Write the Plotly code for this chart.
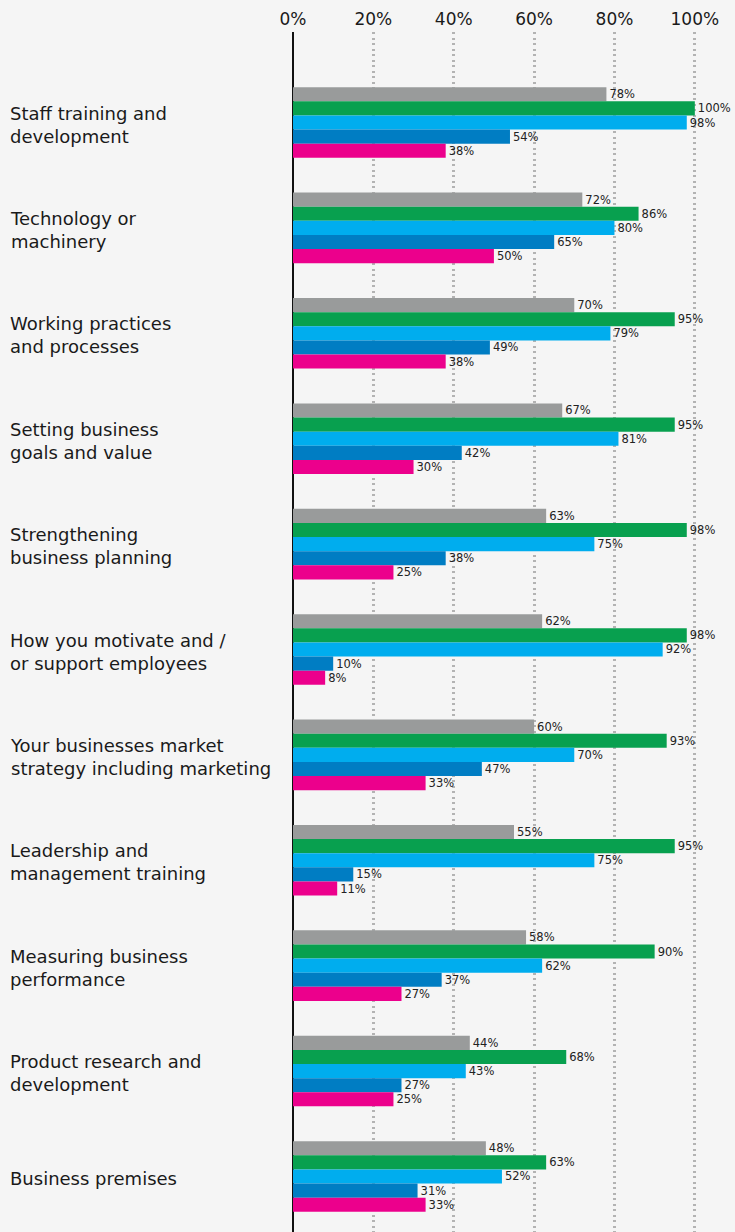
import plotly.graph_objects as go

# Survey areas, top to bottom
categories = [
    "Staff training and<br>development",
    "Technology or<br>machinery",
    "Working practices<br>and processes",
    "Setting business<br>goals and value",
    "Strengthening<br>business planning",
    "How you motivate and /<br>or support employees",
    "Your businesses market<br>strategy including marketing",
    "Leadership and<br>management training",
    "Measuring business<br>performance",
    "Product research and<br>development",
    "Business premises",
]

# Percentage values per series (one value per category)
grey_values = [78, 72, 70, 67, 63, 62, 60, 55, 58, 44, 48]
green_values = [100, 86, 95, 95, 98, 98, 93, 95, 90, 68, 63]
sky_values = [98, 80, 79, 81, 75, 92, 70, 75, 62, 43, 52]
blue_values = [54, 65, 49, 42, 38, 10, 47, 15, 37, 27, 31]
pink_values = [38, 50, 38, 30, 25, 8, 33, 11, 27, 25, 33]

tick_values = [0, 20, 40, 60, 80, 100]
tick_labels = ["0%", "20%", "40%", "60%", "80%", "100%"]

series = [
    ("Grey", grey_values, "#999b9b"),
    ("Green", green_values, "#08a04f"),
    ("Sky", sky_values, "#00adee"),
    ("Blue", blue_values, "#007dc3"),
    ("Pink", pink_values, "#ec008c"),
]

FONT = "'DejaVu Sans', sans-serif"
positions = list(range(len(categories)))

fig = go.Figure()
for name, vals, color in series:
    fig.add_trace(go.Bar(
        name=name,
        y=positions,
        x=vals,
        orientation="h",
        marker=dict(color=color, line=dict(width=0)),
        text=[f"{v}%" for v in vals],
        textposition="outside",
        textfont=dict(family=FONT, size=11.5, color="#222222"),
        cliponaxis=False,
        hoverinfo="skip",
    ))

# Category labels, left aligned at the page edge
left_margin = 293
plot_width = 735 - left_margin
for pos, label in zip(positions, categories):
    fig.add_annotation(
        x=(8 - left_margin) / plot_width, xref="paper",
        y=pos + 0.02, yref="y",
        text=label, showarrow=False,
        xanchor="left", yanchor="middle", align="left",
        font=dict(family=FONT, size=18, color="#1a1a1a"),
    )

fig.update_layout(
    width=735, height=1232,
    margin=dict(l=left_margin, r=0, t=32, b=0),
    paper_bgcolor="#f5f5f5",
    plot_bgcolor="#f5f5f5",
    barmode="group",
    bargap=0.33,
    bargroupgap=0,
    showlegend=False,
    xaxis=dict(
        side="top",
        range=[0, 110],
        tickvals=tick_values,
        ticktext=tick_labels,
        tickfont=dict(family=FONT, size=17, color="#1a1a1a"),
        ticklabelstandoff=3,
        showgrid=True,
        gridcolor="#b3b3b3",
        griddash="2px,3.5px",
        gridwidth=2.5,
        zeroline=True,
        zerolinecolor="#111111",
        zerolinewidth=1.5,
        showline=False,
        ticks="",
        fixedrange=True,
    ),
    yaxis=dict(
        range=[10.527, -0.859],
        showticklabels=False,
        showgrid=False,
        zeroline=False,
        showline=False,
        ticks="",
        fixedrange=True,
    ),
)

fig.write_html("out.html")
